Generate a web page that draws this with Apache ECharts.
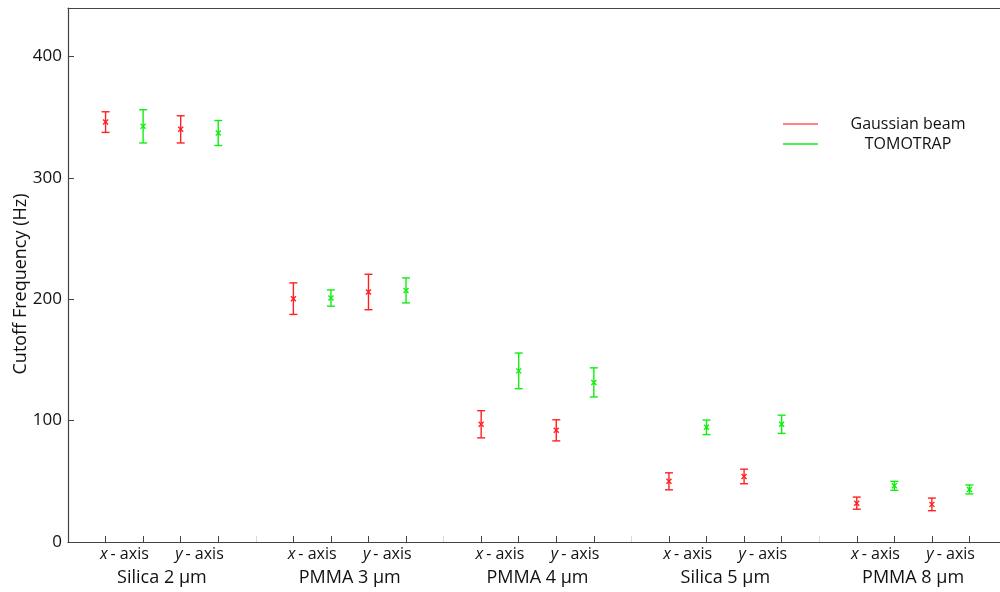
<!DOCTYPE html>
<html style="height: 100%">
<head>
   <meta charset="utf-8">
</head>
<style>
    body, html, #chart {
        width: 100%;
        height: 100%;
        margin: 0;
    }
</style>
<title>Cutoff Frequency</title>
<script src="https://cdn.jsdelivr.net/npm/echarts@6/dist/echarts.min.js"></script>
<body>
   <div id="chart"></div>
   <script type="text/javascript">
    // data
    var groups = ['Silica 2 μm', 'PMMA 3 μm', 'PMMA 4 μm', 'Silica 5 μm', 'PMMA 8 μm'];
    var axisNames = ['x', 'y'];
    var gaussMean = [346, 340, 200.5, 206, 97, 92, 50, 54, 32, 31];
    var gaussErr = [8.5, 11.2, 13, 14.6, 11.2, 8.7, 7, 6, 5, 5.2];
    var tomoMean = [342.5, 337, 201, 207.3, 141, 131.5, 94.5, 97, 46.3, 43.3];
    var tomoErr = [13.7, 10.3, 6.7, 10.3, 14.7, 12, 6, 7.5, 3.7, 3.7];
    var yTicks = [0, 100, 200, 300, 400];

    var font = 'Open Sans';
    var textColor = '#111';
    var lineColor = '#444';

    // slot layout: each group = 4 slots + 1 gap
    var nSlots = groups.length * 5 + 1;
    var slots = [];
    for (var i = 0; i < nSlots; i++) slots.push(String(i));

    function slotOf(k, second) {
        var g = Math.floor(k / 2), a = k % 2;
        return g * 5 + a * 2 + (second ? 2 : 1);
    }
    var dataSlots = [];
    var gauss = [], tomo = [];
    for (var k = 0; k < gaussMean.length; k++) {
        gauss.push([slotOf(k, false), gaussMean[k], gaussErr[k]]);
        tomo.push([slotOf(k, true), tomoMean[k], tomoErr[k]]);
        dataSlots.push(slotOf(k, false), slotOf(k, true));
    }

    function errorBar(color) {
        return function (params, api) {
            var x = api.value(0), m = api.value(1), e = api.value(2);
            var c = api.coord([x, m]);
            var t = api.coord([x, m + e]);
            var b = api.coord([x, m - e]);
            var w = 4, s = 2.5;
            var st = { stroke: color, lineWidth: 1.4 };
            return {
                type: 'group',
                children: [
                    { type: 'line', shape: { x1: c[0], y1: t[1], x2: c[0], y2: b[1] }, style: st },
                    { type: 'line', shape: { x1: c[0] - w, y1: t[1], x2: c[0] + w, y2: t[1] }, style: st },
                    { type: 'line', shape: { x1: c[0] - w, y1: b[1], x2: c[0] + w, y2: b[1] }, style: st },
                    { type: 'line', shape: { x1: c[0] - s, y1: c[1] - s, x2: c[0] + s, y2: c[1] + s }, style: st },
                    { type: 'line', shape: { x1: c[0] - s, y1: c[1] + s, x2: c[0] + s, y2: c[1] - s }, style: st }
                ]
            };
        };
    }

    var red = '#ff2020';
    var green = '#10ee10';

    var chart = echarts.init(document.getElementById('chart'));
    var option = {
        backgroundColor: '#fff',
        animation: false,
        textStyle: { fontFamily: font, color: textColor },
        grid: { left: 68, right: -7, top: 8, bottom: 50, containLabel: false, outerBoundsMode: 'none' },
        legend: {
            orient: 'vertical',
            left: 783,
            top: 115,
            padding: 0,
            itemWidth: 35,
            itemHeight: 1.5,
            itemGap: 2,
            icon: 'rect',
            formatter: function (n) { return '{a|' + n + '}'; },
            textStyle: {
                rich: { a: { fontFamily: font, fontSize: 16, color: textColor, width: 170, align: 'center', height: 18, lineHeight: 18 } }
            },
            data: [
                { name: 'Gaussian beam', itemStyle: { color: '#ff5a5a' } },
                { name: 'TOMOTRAP', itemStyle: { color: green } }
            ]
        },
        xAxis: [
            {
                type: 'category', data: slots, boundaryGap: false, position: 'bottom',
                axisLine: { lineStyle: { color: lineColor, width: 1.2 } },
                axisTick: {
                    inside: true, length: 6, lineStyle: { color: lineColor },
                    interval: function (idx) { return dataSlots.indexOf(idx) >= 0; }
                },
                axisLabel: { show: false }
            },
            {
                type: 'category', data: slots, boundaryGap: false, position: 'bottom',
                axisLine: { show: false },
                axisTick: {
                    inside: true, length: 6, lineStyle: { color: '#d8d8d8' },
                    interval: function (idx) { return idx > 0 && idx % 5 === 0 && idx < nSlots - 1; }
                },
                axisLabel: { show: false }
            },
            {
                type: 'value', min: 0, max: nSlots - 1, interval: 0.5, position: 'bottom',
                axisLine: { show: false }, axisTick: { show: false }, splitLine: { show: false },
                axisLabel: {
                    margin: 4,
                    fontSize: 16,
                    color: textColor,
                    formatter: function (v) {
                        var r = v % 5;
                        if (Math.abs(r - 1.5) < 0.01) return '{i|' + axisNames[0] + '}- axis';
                        if (Math.abs(r - 3.5) < 0.01) return '{i|' + axisNames[1] + '}- axis';
                        return '';
                    },
                    rich: { i: { fontStyle: 'italic', fontSize: 16, fontFamily: font, color: textColor, padding: [0, 3, 0, 0] } }
                }
            },
            {
                type: 'value', min: 0, max: nSlots - 1, interval: 2.5, position: 'bottom',
                axisLine: { show: false }, axisTick: { show: false }, splitLine: { show: false },
                axisLabel: {
                    margin: 27,
                    fontSize: 18,
                    color: textColor,
                    formatter: function (v) {
                        var g = (v - 2.5) / 5;
                        return (Math.abs(g - Math.round(g)) < 0.01 && groups[Math.round(g)]) ? groups[Math.round(g)] : '';
                    }
                }
            },
            {
                type: 'value', position: 'top', min: 0, max: 1,
                axisLine: { show: true, lineStyle: { color: lineColor, width: 1.2 } },
                axisTick: { show: false }, axisLabel: { show: false }, splitLine: { show: false }
            }
        ],
        yAxis: {
            type: 'value', min: 0, max: 440, interval: 100,
            name: 'Cutoff Frequency (Hz)',
            nameLocation: 'middle',
            nameGap: 38,
            nameMoveOverlap: false,
            nameTextStyle: { fontSize: 18, color: textColor, fontFamily: font, padding: [0, 18, 0, 0] },
            axisLine: { show: true, lineStyle: { color: lineColor, width: 1.2 } },
            axisTick: { show: true, inside: true, length: 6, lineStyle: { color: lineColor } },
            splitLine: { show: false },
            axisLabel: {
                fontSize: 17, color: textColor, margin: 6,
                formatter: function (v) { return yTicks.indexOf(v) >= 0 ? String(v) : ''; }
            }
        },
        series: [
            {
                name: 'Gaussian beam', type: 'custom', xAxisIndex: 0,
                itemStyle: { color: red },
                renderItem: errorBar(red),
                encode: { x: 0, y: [1, 2] },
                data: gauss
            },
            {
                name: 'TOMOTRAP', type: 'custom', xAxisIndex: 0,
                itemStyle: { color: green },
                renderItem: errorBar(green),
                encode: { x: 0, y: [1, 2] },
                data: tomo
            }
        ]
    };
    chart.setOption(option);
   </script>
</body>
</html>
